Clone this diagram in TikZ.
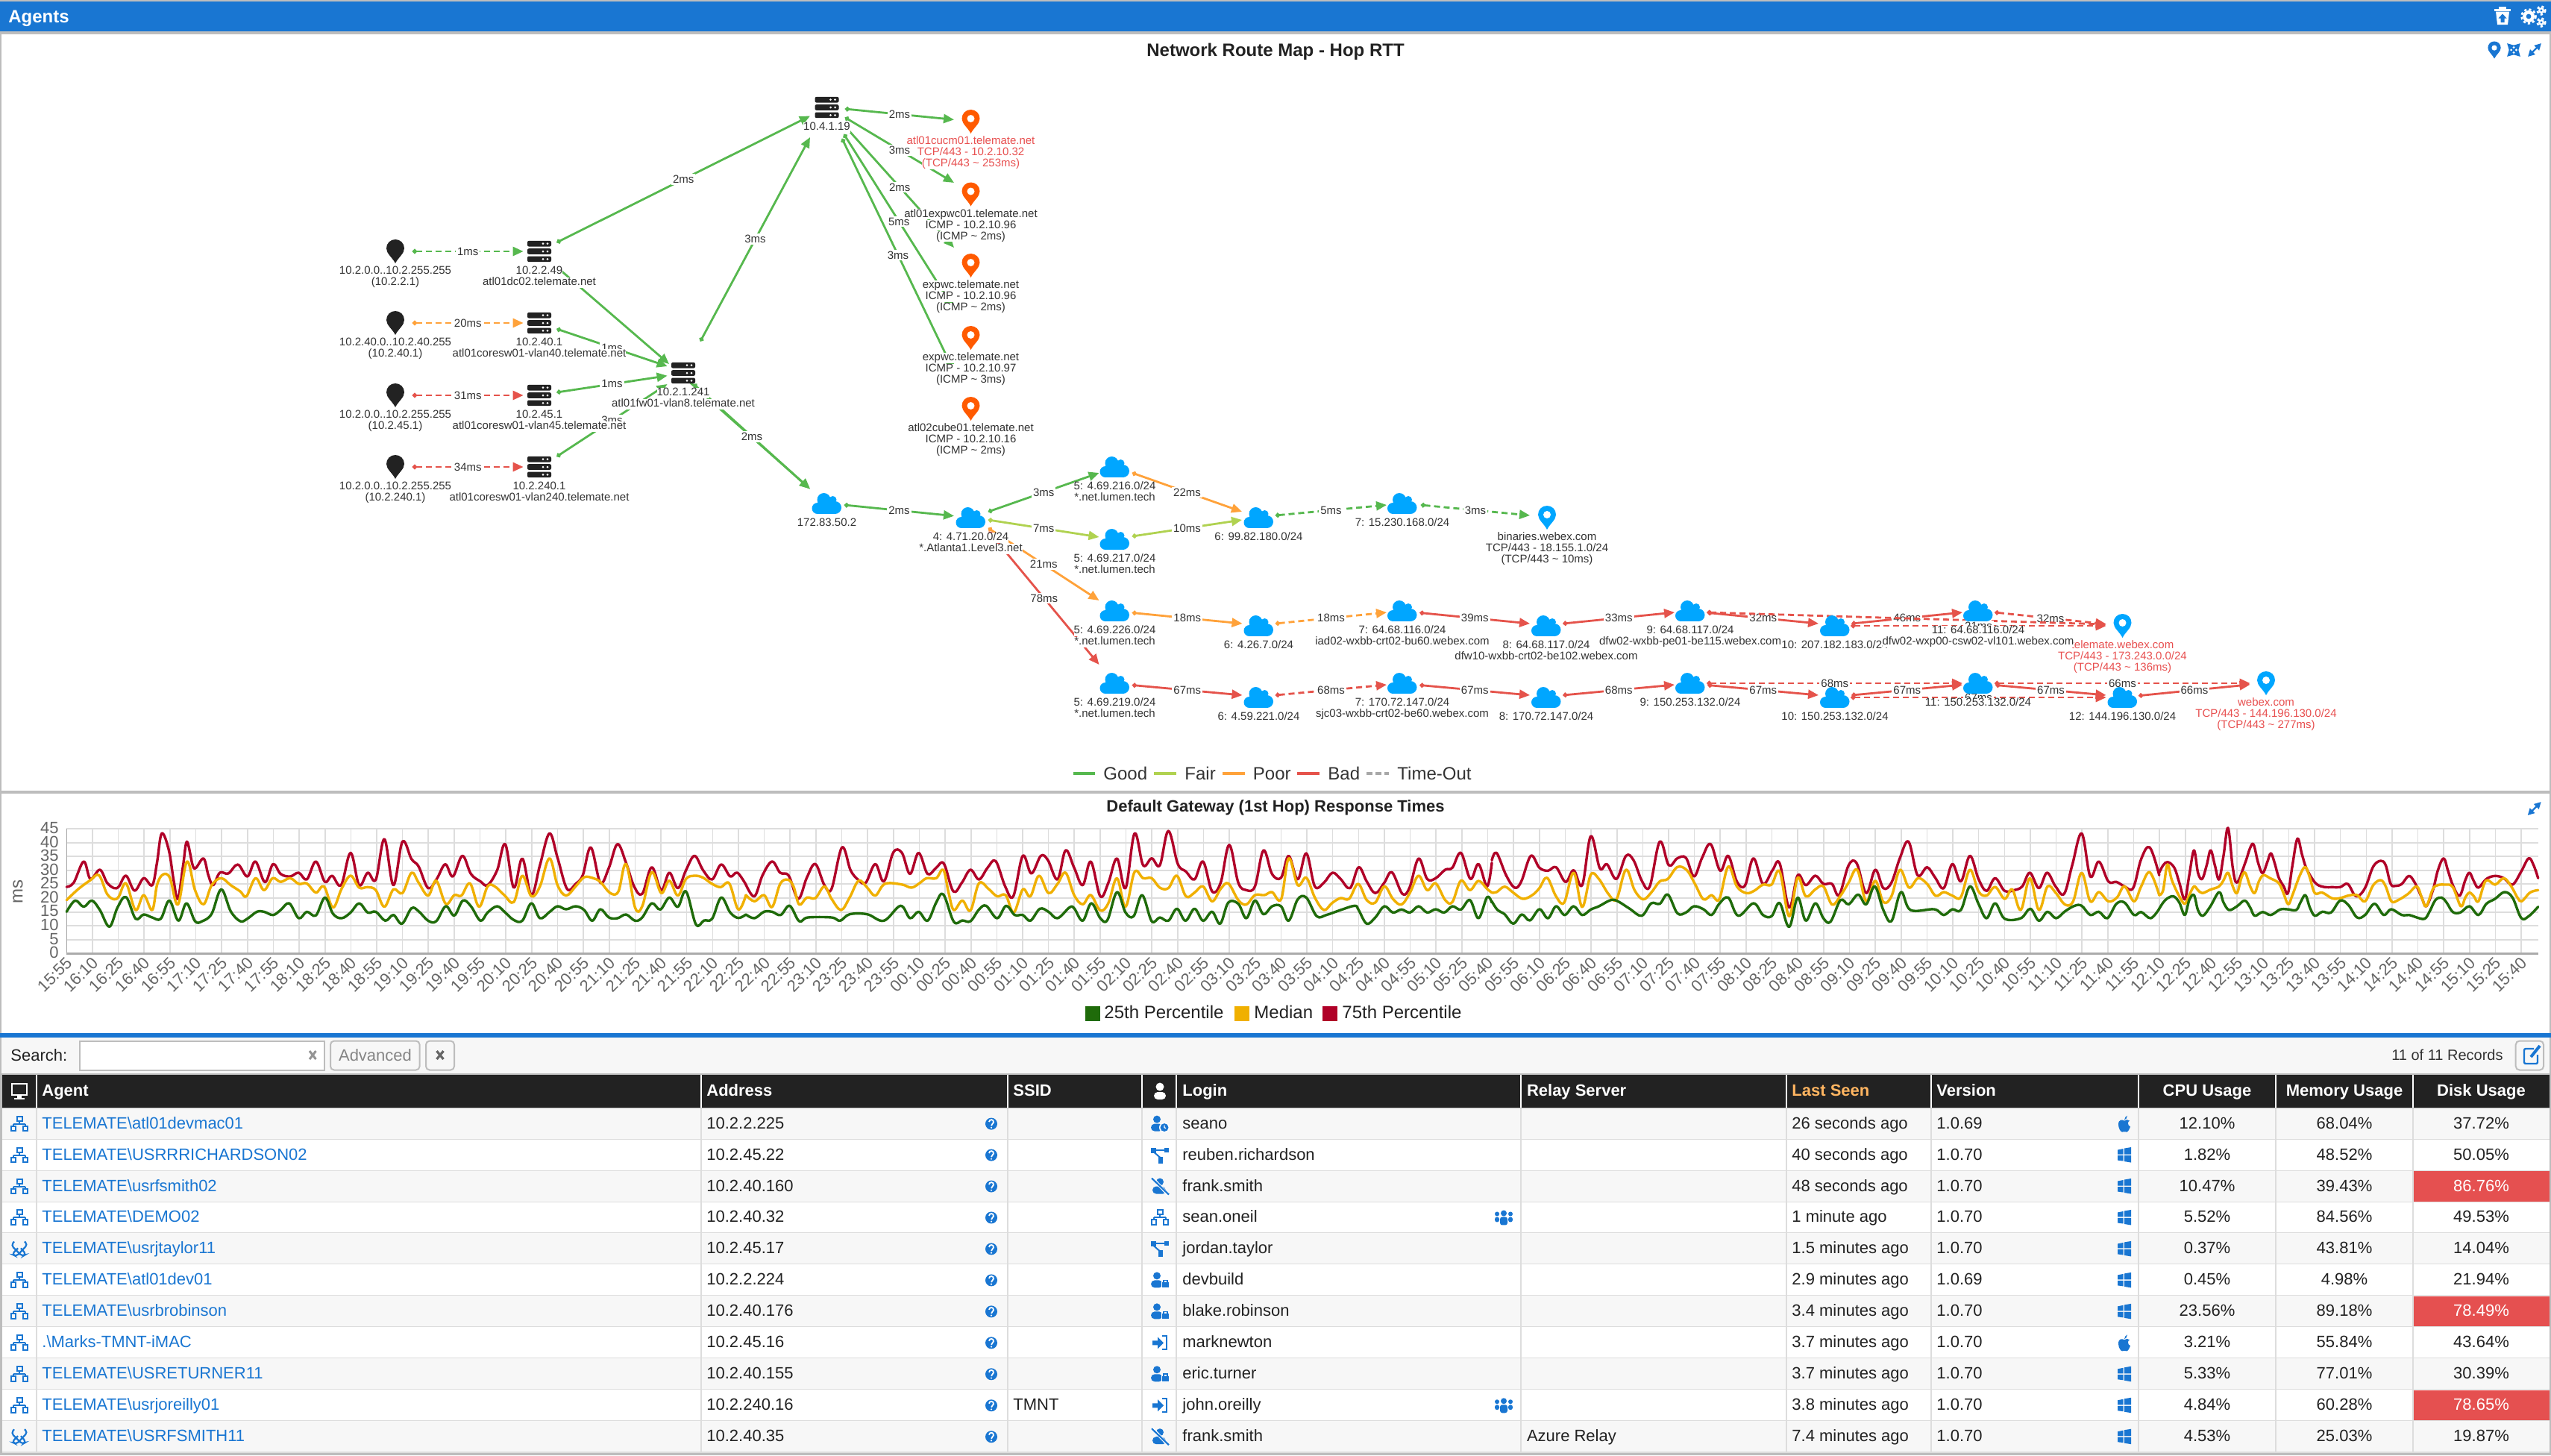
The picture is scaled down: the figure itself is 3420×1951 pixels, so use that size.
\documentclass[tikz,border=0pt]{standalone}
\usepackage{fontspec}
\setmainfont{Liberation Sans}
\usetikzlibrary{arrows.meta}
\pgfdeclarelayer{panel}\pgfdeclarelayer{edges}
\pgfsetlayers{panel,edges,main}
\setlength{\fboxsep}{0pt}
\definecolor{barblue}{HTML}{1976D2}
\definecolor{bord}{HTML}{BDBDBD}
\definecolor{cgood}{HTML}{56B84E}
\definecolor{cfair}{HTML}{B0D250}
\definecolor{cpoor}{HTML}{FFA23A}
\definecolor{cbad}{HTML}{E5534B}
\definecolor{ctime}{HTML}{A8A8A8}
\definecolor{txt}{HTML}{333333}
\definecolor{redtxt}{HTML}{E85050}
\definecolor{pinor}{HTML}{FF5A00}
\definecolor{pinbl}{HTML}{00A6FF}
\definecolor{dark}{HTML}{222222}
\definecolor{sred}{HTML}{B00028}
\definecolor{syel}{HTML}{F0B000}
\definecolor{sgrn}{HTML}{1F6B0A}
\definecolor{axg}{HTML}{666666}
\definecolor{cellred}{HTML}{E55050}
\definecolor{rowg}{HTML}{F7F7F7}
\definecolor{sepg}{HTML}{DDDDDD}
\newcommand\fMap{\fontsize{7.5}{7.5}\selectfont}
\newcommand\fTab{\fontsize{11}{12}\selectfont}
\newcommand\fLeg{\fontsize{12}{12}\selectfont}
\newcommand\bsl{\textbackslash}
\tikzset{
 ic/.style={inner sep=0pt,minimum size=0pt},
 nl/.style={anchor=north,align=center,inner sep=0pt,font=\fMap},
 elab/.style={fill=white,inner sep=1pt,text=txt,font=\fMap},
 lk/.style={line width=1.4pt,arrows={Circle[length=3pt,width=3pt]-Triangle[length=7pt,width=6pt]}},
 dsh/.style={dash pattern=on 4pt off 2.5pt},
 ser/.style={line width=1.7pt,line cap=round,line join=round},
 hgrid/.style={draw=sepg,line width=1pt},
 vgrid/.style={draw=sepg,line width=.8pt},
 yl/.style={anchor=east,inner sep=0pt,text=axg,font=\fTab},
 xl/.style={anchor=east,rotate=45,inner sep=0pt,text=axg,font=\fTab},
 tab/.style={anchor=base west,inner sep=0pt,text=dark,font=\fTab},
 tabc/.style={anchor=base,inner sep=0pt,text=dark,font=\fTab},
 thd/.style={anchor=base west,inner sep=0pt,text=white,font=\fTab\bfseries},
 thc/.style={anchor=base,inner sep=0pt,text=white,font=\fTab\bfseries},
 leg/.style={anchor=base west,inner sep=0pt,text=txt,font=\fLeg},
}
% map node shapes
\newcommand\pinpath[1]{\fill[#1] (0,16) .. controls (-4,8) and (-12,3) .. (-12,-4) .. controls (-12,-11) and (-6.6,-16) .. (0,-16) .. controls (6.6,-16) and (12,-11) .. (12,-4) .. controls (12,3) and (4,8) .. (0,16) -- cycle;}
\newcommand\npin[3]{\node[ic](#1) at (#2){};\begin{scope}[shift={(#2)}]\pinpath{#3}\fill[white](0,-4) circle (5);\end{scope}}
\newcommand\nblk[2]{\node[ic](#1) at (#2){};\begin{scope}[shift={(#2)}]\pinpath{dark}\end{scope}}
\newcommand\nsrv[2]{\node[ic](#1) at (#2){};\begin{scope}[shift={(#2)}]
 \foreach \yy in {-10.3,0,10.3}{\fill[dark,rounded corners=1pt] (-16,\yy-3.8) rectangle (16,\yy+3.8);
 \fill[white] (5,\yy) circle (1.5);\fill[white] (11,\yy) circle (1.5);}\end{scope}}
\newcommand\ncld[2]{\node[ic](#1) at (#2){};\begin{scope}[shift={(#2)},pinbl]
 \fill (-4,-5) circle (9);\fill (8,-5) circle (5);\fill (11,5.5) circle (8.5);\fill (-12.5,6.5) circle (7.5);\fill (-12.5,0) rectangle (11,14);\fill (-8,-4) rectangle (8,5);\end{scope}}
% each line of a node label gets its own white backing
\def\lnsplit#1\\#2\lnend{\colorbox{white}{\vphantom{(}#1}\if\relax\detokenize{#2}\relax\else\\\lnsplit#2\lnend\fi}
\newcommand\nlb[3][txt]{\node[nl,text=#1] (#2lab) at ([shift={(0,19.5)}]#2.center) {\lnsplit#3\\\lnend};}
% links
\newcommand\lnk[6]{\draw[lk,#1] ([shift={(#3)}]#2.center) -- node[elab] (l#2#4) {#6} ([shift={(#5)}]#4.center);}
\newcommand\lnq[5]{\draw[lk,#1] ([shift={(#3)}]#2.center) -- ([shift={(#5)}]#4.center);}
\newcommand\dn[4]{\lnk{#1}{#2}{23.5,2.5}{#3}{-22,-3}{#4}}
\newcommand\up[4]{\lnk{#1}{#2}{22.5,-3}{#3}{-21,2}{#4}}
% small icons
\newcommand\icoNet[2]{\begin{scope}[shift={(#1,#2)},barblue,line width=1pt]
 \draw (-3.5,-10) rectangle (3.5,-4);\draw (0,-4)--(0,0);\draw (-8,0)--(8,0);\draw (-8,0)--(-8,3);\draw (8,0)--(8,3);
 \draw (-11,3) rectangle (-5,9.5);\draw (5,3) rectangle (11,9.5);\end{scope}}
\newcommand\icoChain[2]{\begin{scope}[shift={(#1,#2)},barblue,line width=1.1pt]
 \draw[rounded corners=2pt] (-7,-10) -- (-11,-5) -- (4,10) -- (9,7) -- (2,-1);\draw[rounded corners=2pt] (7,-10) -- (11,-6) -- (-4,10) -- (-10,7) -- (-2,-1);\end{scope}}
\newcommand\uBody{\fill (-4,-6) circle (5);\fill[rounded corners=2.5pt] (-12,10) -- (-12,0) -- (4,0) -- (4,10) -- cycle;}
\newcommand\icoUserClock[2]{\begin{scope}[shift={(#1,#2)},barblue]\uBody\fill[white] (6,5) circle (7);\fill (6,5) circle (5.5);\draw[white,line width=.6pt] (6,2)--(6,5)--(8,6);\end{scope}}
\newcommand\icoUserLock[2]{\begin{scope}[shift={(#1,#2)},barblue]\uBody\fill[white] (1.5,0) rectangle (13,11);\fill (3,3) rectangle (12,10);\draw[line width=.8pt] (5,3)--(5,0)--(10,0)--(10,3);\end{scope}}
\newcommand\icoUserSlash[2]{\begin{scope}[shift={(#1,#2)},barblue]\fill (0,-6) circle (5);\fill[rounded corners=2.5pt] (-10,10) -- (-10,0) -- (7,0) -- (9,10) -- cycle;\draw[white,line width=2pt] (-11,-12)--(12,12);\draw[line width=1.1pt] (-11,-11)--(12,11);\end{scope}}
\newcommand\icoBranch[2]{\begin{scope}[shift={(#1,#2)},barblue]\fill (-12,-10) rectangle (-5,-3);\fill (6,-10) rectangle (12,-4);\fill (-2,2) rectangle (4,11);\draw[line width=1pt] (-6,-7)--(7,-7);\draw[line width=1pt] (-8,-4)--(0,3);\end{scope}}
\newcommand\icoSignIn[2]{\begin{scope}[shift={(#1,#2)},barblue]\fill (-10,-3) -- (-3,-3) -- (-3,-8) -- (5,0) -- (-3,8) -- (-3,3) -- (-10,3) -- cycle;\draw[line width=1pt] (3,-9)--(9,-9)--(9,9)--(3,9);\end{scope}}
\newcommand\icoGroup[2]{\begin{scope}[shift={(#1,#2)},barblue]\fill (0,-6) circle (4);\fill (-9,-5) circle (3);\fill (9,-5) circle (3);\fill[rounded corners=1.5pt] (-5,-1) rectangle (5,10);\fill[rounded corners=1.5pt] (-12,-1) rectangle (-6,6);\fill[rounded corners=1.5pt] (6,-1) rectangle (12,6);\end{scope}}
\newcommand\icoWin[2]{\begin{scope}[shift={(#1,#2)},barblue]\fill (-9,-7) -- (-1.5,-8.5) -- (-1.5,-1) -- (-9,-1) -- cycle;\fill (0,-9) -- (9,-10.5) -- (9,-1) -- (0,-1) -- cycle;\fill (-9,.5) -- (-1.5,.5) -- (-1.5,8) -- (-9,7) -- cycle;\fill (0,.5) -- (9,.5) -- (9,10) -- (0,8.5) -- cycle;\end{scope}}
\newcommand\icoApple[2]{\begin{scope}[shift={(#1,#2)},barblue]\fill (0,-4) .. controls (-3,-6) and (-8,-6) .. (-8,1) .. controls (-8,6) and (-5,11) .. (-3,11) .. controls (-1,11) and (1,10) .. (3,11) .. controls (5,11) and (7,7) .. (8,4) .. controls (4,2) and (4,-3) .. (7,-4) .. controls (5,-6) and (2,-6) .. (0,-4) -- cycle;\fill (0,-5) .. controls (0,-8) and (2,-10) .. (4,-11) .. controls (4,-8) and (2,-6) .. (0,-5) -- cycle;\end{scope}}
\newcommand\icoQ[2]{\begin{scope}[shift={(#1,#2)}]\fill[barblue] (0,0) circle (8);\draw[white,line width=.9pt] (-3,-2.5) .. controls (-3,-6.5) and (3.5,-6.5) .. (3,-2) .. controls (3,0) and (0,0) .. (0,2.5);\fill[white] (0,5.2) circle (1.2);\end{scope}}
\newcommand\icoResize[2]{\draw[barblue,line width=1.1pt,arrows={Triangle[length=4.5pt,width=4.5pt]-Triangle[length=4.5pt,width=4.5pt]}] (#1-9,#2+9)--(#1+9,#2-9);}
\newcommand\icoExpand[2]{\icoResize{#1}{#2}\draw[barblue,line width=1.1pt,arrows={Triangle[length=4.5pt,width=4.5pt]-Triangle[length=4.5pt,width=4.5pt]}] (#1-9,#2-9)--(#1+9,#2+9);}
\newcommand\gear[3]{\fill[white] (#1,#2) circle (#3);\draw[white,line width=1.3pt,dash pattern=on 1.6pt off 1.6pt] (#1,#2) circle (#3+1.5);\fill[barblue] (#1,#2) circle (#3*.42);}
\begin{document}
\begin{tikzpicture}[x=0.5pt,y=-0.5pt]
\useasboundingbox (0,0) rectangle (3420,1951);
\begin{pgfonlayer}{panel}
\fill[bord] (0,0) rectangle (3420,1951);
\fill[white] (2,46) rectangle (3418,1060);
\fill[white] (2,1064) rectangle (3418,1385);
\fill[barblue] (0,2) rectangle (3420,42);
\fill[barblue] (0,1385) rectangle (3420,1391);
\fill[rowg] (2,1391) rectangle (3418,1439);
\end{pgfonlayer}
% ===== top bar
\node[anchor=base west,inner sep=0pt,text=white,font=\fontsize{12}{12}\selectfont\bfseries] (agentsT) at (11,30) {Agents};
\fill[white] (3344,12) rectangle (3366,14.5);\fill[white] (3350,9) rectangle (3360,12);
\fill[white] (3346,15.5) -- (3364,15.5) -- (3362,33) -- (3348,33) -- cycle;
\fill[barblue] (3355,18.5) -- (3360.5,24.5) -- (3357.5,24.5) -- (3357.5,30) -- (3352.5,30) -- (3352.5,24.5) -- (3349.5,24.5) -- cycle;
\gear{3390}{22}{8}\gear{3407}{14}{4}\gear{3407}{30}{4}
% ===== map header
\node[inner sep=0pt,text=dark,font=\fontsize{12}{12}\selectfont\bfseries] (mapT) at (1710,69) {Network Route Map - Hop RTT};
\begin{scope}[shift={(3344,67)},scale=.72]\pinpath{barblue}\fill[white] (0,-4) circle (5);\end{scope}
\icoExpand{3370}{67}\icoResize{3398}{67}
% ===== nodes
\nblk{p1}{530,337}\nblk{p2}{530,433}\nblk{p3}{530,530}\nblk{p4}{530,626}
\nsrv{s1}{723,337}\nsrv{s2}{723,433}\nsrv{s3}{723,530}\nsrv{s4}{723,626}
\nsrv{fw}{916,500}\nsrv{hub}{1108.5,144}
\npin{t1}{1301.5,163}{pinor}\npin{t2}{1301.5,260.5}{pinor}\npin{t3}{1301.5,356}{pinor}\npin{t4}{1301.5,453}{pinor}\npin{t5}{1301.5,548}{pinor}
\ncld{cz}{1108.5,675}\ncld{cf}{1301.5,694}\ncld{cfa}{1494.5,626}\ncld{cfb}{1494.5,723}\ncld{csa}{1687.5,694}\ncld{cva}{1880,675}
\npin{pbin}{2074,694}{pinbl}
\ncld{cfc}{1494.5,819}\ncld{csb}{1687.5,839}\ncld{cvb}{1880,819}\ncld{cgb}{2073,839}\ncld{cnb}{2266,819}\ncld{ctb}{2460,839}\ncld{cub}{2652,819}
\npin{ptw}{2845.5,839}{pinbl}
\ncld{cfd}{1494.5,916}\ncld{csc}{1687.5,935}\ncld{cvc}{1880,916}\ncld{cgc}{2073,935}\ncld{cnc}{2266,916}\ncld{ctc}{2460,935}\ncld{cuc}{2652,916}\ncld{cwc}{2845.5,935}
\npin{pwx}{3038,916}{pinbl}
% ===== node labels
\nlb{p1}{10.2.0.0..10.2.255.255\\(10.2.2.1)}
\nlb{p2}{10.2.40.0..10.2.40.255\\(10.2.40.1)}
\nlb{p3}{10.2.0.0..10.2.255.255\\(10.2.45.1)}
\nlb{p4}{10.2.0.0..10.2.255.255\\(10.2.240.1)}
\nlb{s1}{10.2.2.49\\atl01dc02.telemate.net}
\nlb{s2}{10.2.40.1\\atl01coresw01-vlan40.telemate.net}
\nlb{s3}{10.2.45.1\\atl01coresw01-vlan45.telemate.net}
\nlb{s4}{10.2.240.1\\atl01coresw01-vlan240.telemate.net}
\nlb{fw}{10.2.1.241\\atl01fw01-vlan8.telemate.net}
\nlb{hub}{10.4.1.19}
\nlb[redtxt]{t1}{atl01cucm01.telemate.net\\TCP/443 - 10.2.10.32\\(TCP/443 \textasciitilde{} 253ms)}
\nlb{t2}{atl01expwc01.telemate.net\\ICMP - 10.2.10.96\\(ICMP \textasciitilde{} 2ms)}
\nlb{t3}{expwc.telemate.net\\ICMP - 10.2.10.96\\(ICMP \textasciitilde{} 2ms)}
\nlb{t4}{expwc.telemate.net\\ICMP - 10.2.10.97\\(ICMP \textasciitilde{} 3ms)}
\nlb{t5}{atl02cube01.telemate.net\\ICMP - 10.2.10.16\\(ICMP \textasciitilde{} 2ms)}
\nlb{cz}{172.83.50.2}
\nlb{cf}{4: 4.71.20.0/24\\*.Atlanta1.Level3.net}
\nlb{cfa}{5: 4.69.216.0/24\\*.net.lumen.tech}
\nlb{cfb}{5: 4.69.217.0/24\\*.net.lumen.tech}
\nlb{csa}{6: 99.82.180.0/24}
\nlb{cva}{7: 15.230.168.0/24}
\nlb{pbin}{binaries.webex.com\\TCP/443 - 18.155.1.0/24\\(TCP/443 \textasciitilde{} 10ms)}
\nlb{cfc}{5: 4.69.226.0/24\\*.net.lumen.tech}
\nlb{csb}{6: 4.26.7.0/24}
\nlb{cvb}{7: 64.68.116.0/24\\iad02-wxbb-crt02-bu60.webex.com}
\nlb{cgb}{8: 64.68.117.0/24\\dfw10-wxbb-crt02-be102.webex.com}
\nlb{cnb}{9: 64.68.117.0/24\\dfw02-wxbb-pe01-be115.webex.com}
\nlb{ctb}{10: 207.182.183.0/24}
\nlb[redtxt]{ptw}{telemate.webex.com\\TCP/443 - 173.243.0.0/24\\(TCP/443 \textasciitilde{} 136ms)}
\nlb{cub}{11: 64.68.116.0/24\\dfw02-wxp00-csw02-vl101.webex.com}
\nlb{cfd}{5: 4.69.219.0/24\\*.net.lumen.tech}
\nlb{csc}{6: 4.59.221.0/24}
\nlb{cvc}{7: 170.72.147.0/24\\sjc03-wxbb-crt02-be60.webex.com}
\nlb{cgc}{8: 170.72.147.0/24}
\nlb{cnc}{9: 150.253.132.0/24}
\nlb{ctc}{10: 150.253.132.0/24}
\nlb{cuc}{11: 150.253.132.0/24}
\nlb{cwc}{12: 144.196.130.0/24}
\nlb[redtxt]{pwx}{webex.com\\TCP/443 - 144.196.130.0/24\\(TCP/443 \textasciitilde{} 277ms)}
% ===== connectors
\begin{pgfonlayer}{edges}
\lnk{cgood,dsh}{p1}{23,0}{s1}{-21.4,0}{1ms}
\lnk{cpoor,dsh}{p2}{23,0}{s2}{-21.4,0}{20ms}
\lnk{cbad,dsh}{p3}{23,0}{s3}{-21.4,0}{31ms}
\lnk{cbad,dsh}{p4}{23,0}{s4}{-21.4,0}{34ms}
\lnk{cgood}{s1}{23.5,-12}{hub}{-22.5,11.5}{2ms}
\lnq{cgood}{s1}{23.5,21}{fw}{-19,-12}
\lnk{cgood}{s2}{23.5,8}{fw}{-21.4,-9}{1ms}
\lnk{cgood}{s3}{23.5,-4}{fw}{-21.4,3.7}{1ms}
\lnk{cgood}{s4}{23.5,-14}{fw}{-21.4,15}{3ms}
\lnk{cgood}{fw}{23,-42.5}{hub}{-22.5,40}{3ms}
\lnq{cgood}{fw}{5,9}{cz}{-22.5,-19.5}
\lnk{cgood}{fw}{14,15}{cz}{-22.5,-19.5}{2ms}
\lnk{cgood}{hub}{24.5,2}{t1}{-22.5,-2.6}{2ms}
\lnk{cgood}{hub}{24.5,13.5}{t2}{-22.5,-15.5}{3ms}
\lnk{cgood}{hub}{25,26}{t3}{-22.5,-24}{2ms}
\lnk{cgood}{hub}{23,36}{t4}{-22.5,-39}{5ms}
\lnk{cgood}{hub}{20.5,42}{t5}{-22.5,-50}{3ms}
\lnk{cgood}{cz}{23.5,2}{cf}{-22.5,-2.3}{2ms}
\lnk{cgood}{cf}{23.5,-8}{cfa}{-21,8}{3ms}
\lnk{cfair}{cf}{23.5,3}{cfb}{-21,-3}{7ms}
\lnk{cpoor}{cf}{23.5,14}{cfc}{-21,-14}{21ms}
\lnk{cbad}{cf}{24.5,19}{cfd}{-21,-25}{78ms}
\lnk{cpoor}{cfa}{23.5,8}{csa}{-22.5,-8}{22ms}
\lnk{cfair}{cfb}{23.5,-4}{csa}{-22.5,3}{10ms}
\up{cgood,dsh}{csa}{cva}{5ms}
\lnk{cgood,dsh}{cva}{25,2}{pbin}{-23,-3}{3ms}
\dn{cpoor}{cfc}{csb}{18ms}
\up{cpoor,dsh}{csb}{cvb}{18ms}
\dn{cbad}{cvb}{cgb}{39ms}
\up{cbad}{cgb}{cnb}{33ms}
\dn{cbad}{cnb}{ctb}{32ms}
\up{cbad}{ctb}{cub}{46ms}
\lnk{cbad,dsh}{cub}{22.3,2}{ptw}{-21.8,-2.3}{32ms}
\lnq{cbad,dsh}{cnb}{22.5,2}{ptw}{-21.8,-2}
\lnk{cbad,dsh}{ctb}{21.4,0}{ptw}{-21.8,0}{21ms}
\dn{cbad}{cfd}{csc}{67ms}
\up{cbad,dsh}{csc}{cvc}{68ms}
\dn{cbad}{cvc}{cgc}{67ms}
\up{cbad}{cgc}{cnc}{68ms}
\dn{cbad}{cnc}{ctc}{67ms}
\lnk{cbad,dsh}{cnc}{22.5,0}{cuc}{-21,0}{68ms}
\up{cbad}{ctc}{cuc}{67ms}
\lnk{cbad,dsh}{ctc}{21.4,0}{cwc}{-21.8,0}{67ms}
\dn{cbad}{cuc}{cwc}{67ms}
\lnk{cbad,dsh}{cuc}{22.3,0}{pwx}{-21.4,0}{66ms}
\lnk{cbad}{cwc}{21.7,-2.3}{pwx}{-21.4,1.7}{66ms}
\end{pgfonlayer}
% ===== map legend
\draw[cgood,line width=2pt] (1439,1036.7)--(1468,1036.7);\node[leg] (lgGood) at (1479,1045) {Good};
\draw[cfair,line width=2pt] (1547,1036.7)--(1577,1036.7);\node[leg] (lgFair) at (1588,1045) {Fair};
\draw[cpoor,line width=2pt] (1639,1036.7)--(1669,1036.7);\node[leg] (lgPoor) at (1679.5,1045) {Poor};
\draw[cbad,line width=2pt] (1739,1036.7)--(1769,1036.7);\node[leg] (lgBad) at (1780,1045) {Bad};
\draw[ctime,line width=2pt,dash pattern=on 4pt off 2pt] (1832,1036.7)--(1862,1036.7);\node[leg] (lgTime) at (1873,1045) {Time-Out};
% ===== chart
\node[inner sep=0pt,text=dark,font=\fTab\bfseries] (chartT) at (1710,1083) {Default Gateway (1st Hop) Response Times};
\icoResize{3397.7}{1084}
\foreach \v in {0,5,...,45}{\pgfmathsetmacro\vy{1278.3-3.72*\v}
 \ifnum\v>0 \draw[hgrid] (89,\vy)--(3403,\vy);\fi
 \node[yl] (yt\v) at (79,\vy-1) {\v};}
\foreach \k in {0,...,95}{
 \pgfmathsetmacro\xx{89.3+34.64*\k}
 \pgfmathtruncatemacro\tmin{mod(955+15*\k,1440)}
 \pgfmathtruncatemacro\thr{\tmin/60}
 \pgfmathtruncatemacro\tmn{\tmin-60*\thr}
 \draw[vgrid] (\xx,1111)--(\xx,1278);
 \node[xl] (xt\k) at (\xx+4,1287) {\ifnum\thr<10 0\fi\thr:\ifnum\tmn<10 0\fi\tmn};}
\draw[axg!60,line width=.8pt] (89.3,1111)--(89.3,1278);
\draw[axg!55,line width=1.5pt] (89,1278.3)--(3403,1278.3);
\node[inner sep=0pt,rotate=90,text=axg,font=\fLeg] (msT) at (24,1195) {ms};
% --- red
\begin{scope}[x=0.31888pt,y=-0.16667pt,shift={(0pt,-530pt)}]
\draw[ser,sred] plot[smooth,tension=.6] coordinates {(140,387)(155,370)(176,285)(190,355)(210,318)(225,370)(240,392)(250,385)(265,342)(283,402)(302,352)(320,380)(330,290)(340,172)(355,240)(365,360)(374,435)(385,300)(393,205)(405,300)(412,310)(428,273)(438,340)(448,380)(462,330)(480,333)(500,297)(520,345)(537,285)(557,368)(574,295)(590,335)(610,345)(628,330)(645,357)(664,285)(683,367)(698,342)(717,380)(737,250)(755,380)(773,330)(790,358)(808,195)(827,380)(846,205)(865,275)(880,305)(900,392)(918,355)(936,296)(952,345)(972,262)(990,335)(1010,365)(1025,380)(1045,320)(1062,215)(1080,390)(1098,273)(1117,420)(1135,300)(1155,172)(1172,270)(1192,395)(1210,375)(1225,340)(1242,228)(1262,370)(1280,310)(1298,215)(1316,290)(1333,385)(1350,415)(1370,308)(1390,400)(1407,330)(1425,392)(1442,320)(1460,262)(1478,320)(1497,357)(1516,297)(1535,345)(1550,330)(1568,378)};
\end{scope}
\begin{scope}[x=0.31888pt,y=-0.16667pt,shift={(500pt,-530pt)}]
\draw[ser,sred] plot[smooth,tension=.6] coordinates {(0,378)(18,425)(35,340)(55,285)(72,330)(90,342)(110,435)(128,350)(146,295)(165,380)(180,395)(202,228)(220,320)(237,360)(252,370)(272,295)(290,365)(310,248)(328,250)(345,335)(363,250)(382,335)(400,310)(416,293)(436,405)(454,370)(472,318)(490,357)(508,310)(525,283)(545,385)(562,425)(582,262)(600,333)(620,262)(635,280)(655,357)(672,240)(690,310)(708,380)(725,285)(745,425)(762,370)(780,273)(798,392)(817,172)(835,300)(853,272)(870,300)(888,162)(908,295)(925,325)(943,357)(961,285)(980,405)(998,370)(1016,218)(1035,370)(1052,400)(1070,385)(1088,240)(1106,335)(1125,350)(1141,262)(1160,357)(1178,252)(1196,385)(1215,370)(1233,330)(1250,355)(1270,392)(1288,308)(1305,365)(1323,412)(1342,370)(1358,328)(1380,415)(1395,390)(1414,273)(1432,355)(1450,352)(1470,318)(1485,310)(1503,250)(1523,355)(1540,295)(1558,385)(1568,290)};
\end{scope}
\begin{scope}[x=0.31888pt,y=-0.16667pt,shift={(1000pt,-530pt)}]
\draw[ser,sred] plot[smooth,tension=.6] coordinates {(0,280)(10,250)(30,340)(48,390)(62,365)(82,262)(100,310)(118,322)(135,308)(155,367)(172,320)(190,380)(208,183)(227,312)(242,296)(262,355)(282,262)(298,280)(316,365)(332,385)(353,205)(372,300)(390,272)(408,270)(425,345)(442,270)(460,215)(480,322)(497,262)(515,365)(532,382)(550,272)(570,375)(590,320)(605,292)(625,470)(643,340)(660,380)(680,342)(697,375)(715,375)(730,420)(750,300)(767,292)(787,412)(806,318)(823,392)(840,370)(858,270)(876,205)(895,340)(915,308)(932,350)(950,392)(968,295)(986,365)(1005,262)(1023,355)(1040,403)(1058,352)(1078,403)(1098,400)(1115,385)(1131,330)(1150,392)(1167,330)(1185,385)(1203,415)(1220,300)(1240,172)(1258,345)(1276,285)(1296,365)(1313,367)(1330,385)(1348,392)(1365,275)(1383,228)(1403,340)};
\end{scope}
\begin{scope}[x=0.16667pt,y=-0.16667pt,shift={(1450pt,-530pt)}]
\draw[ser,sred] plot[smooth,tension=.6] coordinates {(-16,330)(0,300)(18,287)(45,310)(65,370)(87,437)(105,340)(124,240)(140,330)(157,355)(175,300)(191,240)(208,300)(225,357)(243,260)(261,150)(280,310)(297,370)(330,290)(350,230)(364,217)(382,290)(400,332)(418,290)(433,252)(448,290)(465,350)(485,385)(502,412)(520,300)(540,193)(558,255)(575,310)(600,355)(620,378)(650,388)(680,388)(712,388)(742,375)(770,420)(790,420)(815,385)(845,305)(875,282)(895,300)(915,375)(935,383)(960,375)(988,343)(1012,370)(1040,430)(1058,465)(1085,400)(1105,320)(1128,272)(1145,320)(1165,380)(1192,423)(1215,360)(1232,330)(1250,365)(1268,390)(1300,355)(1335,343)(1370,352)(1405,378)(1440,325)(1470,272)(1490,300)(1508,352)};
\end{scope}
% --- yellow
\begin{scope}[x=0.31888pt,y=-0.16667pt,shift={(0pt,-530pt)}]
\draw[ser,syel] plot[smooth,tension=.6] coordinates {(140,440)(165,395)(190,360)(208,340)(225,415)(240,437)(250,425)(265,373)(285,480)(302,420)(320,480)(330,380)(342,338)(357,350)(374,458)(393,285)(410,400)(428,457)(445,380)(465,352)(485,380)(505,405)(518,425)(537,352)(555,400)(573,352)(590,367)(610,352)(628,375)(645,373)(664,410)(681,385)(700,470)(718,395)(737,342)(755,390)(773,388)(790,400)(808,467)(827,397)(846,412)(865,330)(880,370)(900,422)(917,362)(937,455)(955,420)(970,422)(988,373)(1007,467)(1025,385)(1040,385)(1060,420)(1080,448)(1098,342)(1117,425)(1135,385)(1155,272)(1172,380)(1190,422)(1210,385)(1228,348)(1247,352)(1262,367)(1283,412)(1300,405)(1316,295)(1335,470)(1350,465)(1370,328)(1390,412)(1407,362)(1425,422)(1442,355)(1460,342)(1478,350)(1497,375)(1515,388)(1533,373)(1552,478)(1568,420)};
\end{scope}
\begin{scope}[x=0.31888pt,y=-0.16667pt,shift={(500pt,-530pt)}]
\draw[ser,syel] plot[smooth,tension=.6] coordinates {(0,420)(18,445)(38,420)(55,468)(72,375)(88,358)(100,385)(112,458)(128,430)(146,432)(165,385)(180,435)(200,480)(218,430)(237,362)(255,390)(272,422)(292,375)(327,377)(348,390)(365,372)(380,352)(400,352)(415,318)(426,410)(437,480)(455,442)(472,482)(490,372)(510,395)(528,425)(546,420)(563,490)(582,397)(598,425)(616,342)(636,412)(655,375)(672,330)(690,420)(708,457)(725,420)(745,482)(762,452)(780,352)(798,467)(817,327)(835,352)(853,352)(870,390)(888,392)(906,342)(925,425)(943,410)(961,385)(980,445)(998,395)(1014,373)(1035,440)(1052,458)(1070,420)(1090,420)(1106,408)(1125,437)(1141,272)(1160,380)(1178,350)(1196,430)(1215,480)(1232,452)(1250,432)(1268,435)(1287,375)(1305,440)(1323,450)(1342,385)(1360,435)(1378,458)(1396,410)(1414,342)(1432,400)(1450,373)(1470,440)(1485,448)(1503,362)(1522,400)(1540,363)(1558,395)(1568,410)};
\end{scope}
\begin{scope}[x=0.31888pt,y=-0.16667pt,shift={(1000pt,-530pt)}]
\draw[ser,syel] plot[smooth,tension=.6] coordinates {(0,410)(10,408)(27,386)(45,410)(65,435)(85,420)(100,392)(116,350)(135,425)(152,450)(172,330)(190,468)(208,338)(225,355)(245,415)(262,437)(282,318)(300,400)(318,437)(335,410)(353,365)(370,355)(390,307)(410,320)(427,375)(445,437)(462,420)(478,437)(497,305)(515,385)(535,412)(552,402)(570,378)(588,378)(605,325)(625,505)(643,350)(660,425)(680,397)(697,385)(715,458)(732,425)(750,370)(768,318)(787,445)(806,362)(823,448)(840,425)(858,318)(877,390)(896,352)(915,375)(933,423)(950,408)(968,422)(986,428)(1005,318)(1023,405)(1040,422)(1058,387)(1078,435)(1094,397)(1112,480)(1131,352)(1150,480)(1168,385)(1185,410)(1205,458)(1222,445)(1240,330)(1258,445)(1276,408)(1296,445)(1314,430)(1330,385)(1350,445)(1365,385)(1383,328)(1403,420)};
\end{scope}
\begin{scope}[x=0.16667pt,y=-0.16667pt,shift={(1450pt,-530pt)}]
\draw[ser,syel] plot[smooth,tension=.6] coordinates {(-16,420)(0,400)(17,297)(35,360)(65,425)(87,455)(105,420)(124,385)(140,400)(158,412)(190,398)(225,385)(243,360)(261,330)(280,385)(297,412)(315,350)(330,330)(350,385)(368,412)(385,365)(403,340)(430,352)(465,372)(485,415)(503,457)(520,420)(550,340)(572,307)(590,350)(610,412)(640,410)(680,433)(712,432)(745,422)(780,420)(812,445)(845,380)(875,360)(895,385)(918,445)(945,440)(985,415)(1020,385)(1040,430)(1058,465)(1085,395)(1105,380)(1135,378)(1165,388)(1197,465)(1215,430)(1232,410)(1250,425)(1268,445)(1298,362)(1335,378)(1370,352)(1400,385)(1425,430)(1442,445)(1475,410)(1508,400)};
\end{scope}
% --- green
\begin{scope}[x=0.31888pt,y=-0.16667pt,shift={(0pt,-530pt)}]
\draw[ser,sgrn] plot[smooth,tension=.6] coordinates {(140,487)(158,442)(176,467)(193,442)(210,480)(230,547)(247,470)(265,428)(285,515)(302,498)(320,510)(338,515)(356,442)(375,523)(392,453)(410,525)(425,525)(445,495)(465,397)(485,485)(505,525)(520,515)(540,487)(555,487)(574,500)(590,480)(608,453)(628,513)(645,487)(664,502)(683,430)(700,495)(718,513)(737,490)(755,453)(773,490)(790,487)(810,523)(827,500)(845,535)(865,473)(880,485)(900,523)(917,525)(937,465)(955,502)(973,442)(990,465)(1010,523)(1025,490)(1045,465)(1062,490)(1080,520)(1098,523)(1117,453)(1135,513)(1155,488)(1172,465)(1190,477)(1210,465)(1228,480)(1245,523)(1262,477)(1280,510)(1298,513)(1316,498)(1335,523)(1350,510)(1370,453)(1388,478)(1407,430)(1425,467)(1442,405)(1463,538)(1480,522)(1497,515)(1516,430)(1535,490)(1552,512)(1568,498)};
\end{scope}
\begin{scope}[x=0.31888pt,y=-0.16667pt,shift={(500pt,-530pt)}]
\draw[ser,sgrn] plot[smooth,tension=.6] coordinates {(0,498)(18,513)(38,487)(55,487)(73,500)(92,463)(112,525)(130,510)(180,510)(198,523)(218,497)(255,497)(290,523)(325,463)(345,513)(363,487)(382,523)(400,450)(415,417)(437,527)(455,522)(472,525)(490,478)(505,463)(528,513)(547,463)(565,500)(582,500)(598,523)(618,475)(636,487)(655,513)(680,470)(690,473)(708,523)(726,453)(745,513)(760,520)(780,408)(798,490)(815,505)(833,420)(853,525)(870,510)(888,523)(906,475)(924,523)(943,475)(961,523)(980,487)(997,535)(1014,450)(1035,455)(1052,513)(1070,442)(1088,497)(1106,465)(1125,465)(1141,523)(1160,437)(1178,430)(1200,505)(1220,500)(1250,480)(1280,463)(1288,480)(1305,535)(1323,510)(1342,465)(1360,490)(1378,478)(1396,490)(1414,465)(1432,490)(1450,477)(1468,490)(1485,465)(1503,478)(1522,440)(1540,513)(1558,428)(1568,450)};
\end{scope}
\begin{scope}[x=0.31888pt,y=-0.16667pt,shift={(1000pt,-530pt)}]
\draw[ser,sgrn] plot[smooth,tension=.6] coordinates {(0,445)(12,480)(27,497)(45,535)(63,498)(80,522)(100,477)(118,513)(135,465)(153,500)(172,465)(190,500)(208,478)(225,465)(250,440)(265,445)(290,475)(315,503)(335,453)(353,455)(370,418)(390,493)(408,490)(425,465)(445,477)(462,500)(478,455)(497,430)(518,503)(550,453)(570,500)(588,505)(605,452)(625,548)(643,430)(660,523)(680,453)(697,513)(712,527)(733,440)(750,457)(770,418)(787,457)(805,385)(823,480)(840,525)(860,408)(880,480)(930,477)(950,500)(968,477)(986,480)(1005,385)(1023,455)(1040,513)(1058,453)(1078,515)(1112,513)(1132,475)(1150,523)(1168,487)(1186,513)(1205,485)(1225,463)(1240,463)(1258,500)(1276,487)(1294,513)(1313,455)(1330,450)(1350,500)(1365,488)(1385,513)(1403,475)};
\end{scope}
\begin{scope}[x=0.16667pt,y=-0.16667pt,shift={(1450pt,-530pt)}]
\draw[ser,sgrn] plot[smooth,tension=.6] coordinates {(-16,475)(0,450)(17,433)(42,425)(65,450)(87,500)(105,440)(124,420)(140,480)(160,503)(190,465)(225,408)(243,450)(265,480)(297,465)(328,442)(350,470)(368,503)(400,488)(433,500)(470,478)(500,477)(535,480)(552,450)(572,420)(590,470)(610,503)(640,487)(675,490)(712,442)(745,460)(780,510)(812,500)(850,455)(887,500)(917,477)(960,500)(990,500)(1020,510)(1052,515)(1072,485)(1095,440)(1120,430)(1140,450)(1165,488)(1195,490)(1232,465)(1268,500)(1300,455)(1335,435)(1372,408)(1405,430)(1440,512)(1470,505)(1508,467)};
\end{scope}
% chart legend
\fill[sgrn] (1455,1349) rectangle (1475,1369);\node[leg,text=dark] (clA) at (1480,1365.5) {25th Percentile};
\fill[syel] (1655,1349) rectangle (1675,1369);\node[leg,text=dark] (clB) at (1681,1365.5) {Median};
\fill[sred] (1773,1349) rectangle (1793,1369);\node[leg,text=dark] (clC) at (1799,1365.5) {75th Percentile};
% ===== search row
\node[tab] (srchL) at (14,1422) {Search:};
\draw[bord,fill=white,line width=1pt] (106.6,1395.5) rectangle (435,1434.5);
\draw[axg!70,line width=1.5pt] (415,1409)--(423.5,1420);\draw[axg!70,line width=1.5pt] (423.5,1409)--(415,1420);
\draw[bord,fill=rowg,line width=1pt,rounded corners=2.5pt] (443,1395.5) rectangle (562.6,1434.5);
\node[tabc,text=axg!80] (advB) at (503,1422) {Advanced};
\draw[bord,fill=rowg,line width=1pt,rounded corners=2.5pt] (571,1395.5) rectangle (609,1434.5);
\draw[axg,line width=1.6pt] (585.5,1409)--(594.5,1420);\draw[axg,line width=1.6pt] (594.5,1409)--(585.5,1420);
\node[tab,anchor=base east,text=txt,font=\fontsize{10}{12}\selectfont] (recN) at (3356,1421) {11 of 11 Records};
\draw[bord,fill=rowg,line width=1pt,rounded corners=2.5pt] (3372.7,1395.5) rectangle (3410,1434.5);
\draw[barblue,line width=1.2pt,rounded corners=1pt] (3397,1406)--(3384,1406)--(3384,1426)--(3402,1426)--(3402,1414);
\draw[barblue,line width=2pt] (3393,1417)--(3405,1402);
% ===== table
\fill[dark] (3,1441) rectangle (3418,1485);
\foreach \xs in {49,939.5,1351,1531,1577,2039,2394.5,2588.7,2866.5,3050.6,3234.7}{\draw[white,line width=1pt] (\xs,1441)--(\xs,1485);}
\begin{scope}[shift={(26,1463)},white]\draw[line width=1.1pt] (-10,-10) rectangle (10,5);\fill (-3,5) rectangle (3,9);\fill (-7,9) rectangle (7,11);\end{scope}
\begin{scope}[shift={(1555,1463)},white]\fill (0,-6) circle (5.5);\fill[rounded corners=2.5pt] (-8,11) -- (-8,1) -- (8,1) -- (8,11) -- cycle;\end{scope}
\node[thd] (hA) at (56,1469.5) {Agent};
\node[thd] (hB) at (947,1469.5) {Address};
\node[thd] (hC) at (1358,1469.5) {SSID};
\node[thd] (hD) at (1585,1469.5) {Login};
\node[thd] (hE) at (2046.6,1469.5) {Relay Server};
\node[thd,text=cpoor!80!white] (hF) at (2402,1469.5) {Last Seen};
\node[thd] (hG) at (2596,1469.5) {Version};
\node[thc] (hH) at (2959,1469.5) {CPU Usage};
\node[thc] (hI) at (3143,1469.5) {Memory Usage};
\node[thc] (hJ) at (3326.5,1469.5) {Disk Usage};
\foreach \ri/\ai/\agn/\adr/\sid/\ui/\lgn/\grp/\rly/\lst/\ver/\osn/\cpu/\mem/\dsk/\rdf in {
1/Net/TELEMATE\bsl{}atl01devmac01/10.2.2.225//UserClock/seano/0//26 seconds ago/1.0.69/Apple/12.10/68.04/37.72/0,
2/Net/TELEMATE\bsl{}USRRRICHARDSON02/10.2.45.22//Branch/reuben.richardson/0//40 seconds ago/1.0.70/Win/1.82/48.52/50.05/0,
3/Net/TELEMATE\bsl{}usrfsmith02/10.2.40.160//UserSlash/frank.smith/0//48 seconds ago/1.0.70/Win/10.47/39.43/86.76/1,
4/Net/TELEMATE\bsl{}DEMO02/10.2.40.32//Net/sean.oneil/1//1 minute ago/1.0.70/Win/5.52/84.56/49.53/0,
5/Chain/TELEMATE\bsl{}usrjtaylor11/10.2.45.17//Branch/jordan.taylor/0//1.5 minutes ago/1.0.70/Win/0.37/43.81/14.04/0,
6/Net/TELEMATE\bsl{}atl01dev01/10.2.2.224//UserLock/devbuild/0//2.9 minutes ago/1.0.69/Win/0.45/4.98/21.94/0,
7/Net/TELEMATE\bsl{}usrbrobinson/10.2.40.176//UserLock/blake.robinson/0//3.4 minutes ago/1.0.70/Win/23.56/89.18/78.49/1,
8/Net/.\bsl{}Marks-TMNT-iMAC/10.2.45.16//SignIn/marknewton/0//3.7 minutes ago/1.0.70/Apple/3.21/55.84/43.64/0,
9/Net/TELEMATE\bsl{}USRETURNER11/10.2.40.155//UserLock/eric.turner/0//3.7 minutes ago/1.0.70/Win/5.33/77.01/30.39/0,
10/Net/TELEMATE\bsl{}usrjoreilly01/10.2.240.16/TMNT/SignIn/john.oreilly/1//3.8 minutes ago/1.0.70/Win/4.84/60.28/78.65/1,
11/Chain/TELEMATE\bsl{}USRFSMITH11/10.2.40.35//UserSlash/frank.smith/0/Azure Relay/7.4 minutes ago/1.0.70/Win/4.53/25.03/19.87/0}{
 \pgfmathsetmacro\yt{1485.6+41.96*(\ri-1)}
 \pgfmathsetmacro\yc{\yt+20.98}
 \pgfmathsetmacro\yb{\yc+6.5}
 \pgfmathsetmacro\ye{\yt+41.96}
 \ifodd\ri\relax\fill[rowg] (3,\yt) rectangle (3418,\ye);\else\fill[white] (3,\yt) rectangle (3418,\ye);\fi
 \ifnum\rdf=1 \fill[cellred] (3236,\yt+.5) rectangle (3418,\ye-1);\fi
 \draw[sepg,line width=1pt] (3,\ye)--(3418,\ye);
 \foreach \xs in {49,939.5,1351,1531,1577,2039,2394.5,2588.7,2866.5,3050.6,3234.7}{\draw[sepg,line width=1pt] (\xs,\yt)--(\xs,\ye);}
 \csname ico\ai\endcsname{26}{\yc}
 \node[tab,text=barblue] (ag\ri) at (56,\yb) {\agn};
 \node[tab] (ad\ri) at (947,\yb) {\adr};
 \icoQ{1329}{\yc}
 \node[tab] (sd\ri) at (1358,\yb) {\sid};
 \csname ico\ui\endcsname{1555}{\yc}
 \node[tab] (lg\ri) at (1585,\yb) {\lgn};
 \ifnum\grp=1 \icoGroup{2016}{\yc}\fi
 \node[tab] (rl\ri) at (2046.6,\yb) {\rly};
 \node[tab] (ls\ri) at (2402,\yb) {\lst};
 \node[tab] (ve\ri) at (2596,\yb) {\ver};
 \csname ico\osn\endcsname{2848}{\yc}
 \node[tabc] (cp\ri) at (2959,\yb) {\cpu\%};
 \node[tabc] (me\ri) at (3143,\yb) {\mem\%};
 \ifnum\rdf=1 \node[tabc,text=white] (du\ri) at (3326.5,\yb) {\dsk\%};\else\node[tabc] (du\ri) at (3326.5,\yb) {\dsk\%};\fi
}
\end{tikzpicture}
\end{document}
